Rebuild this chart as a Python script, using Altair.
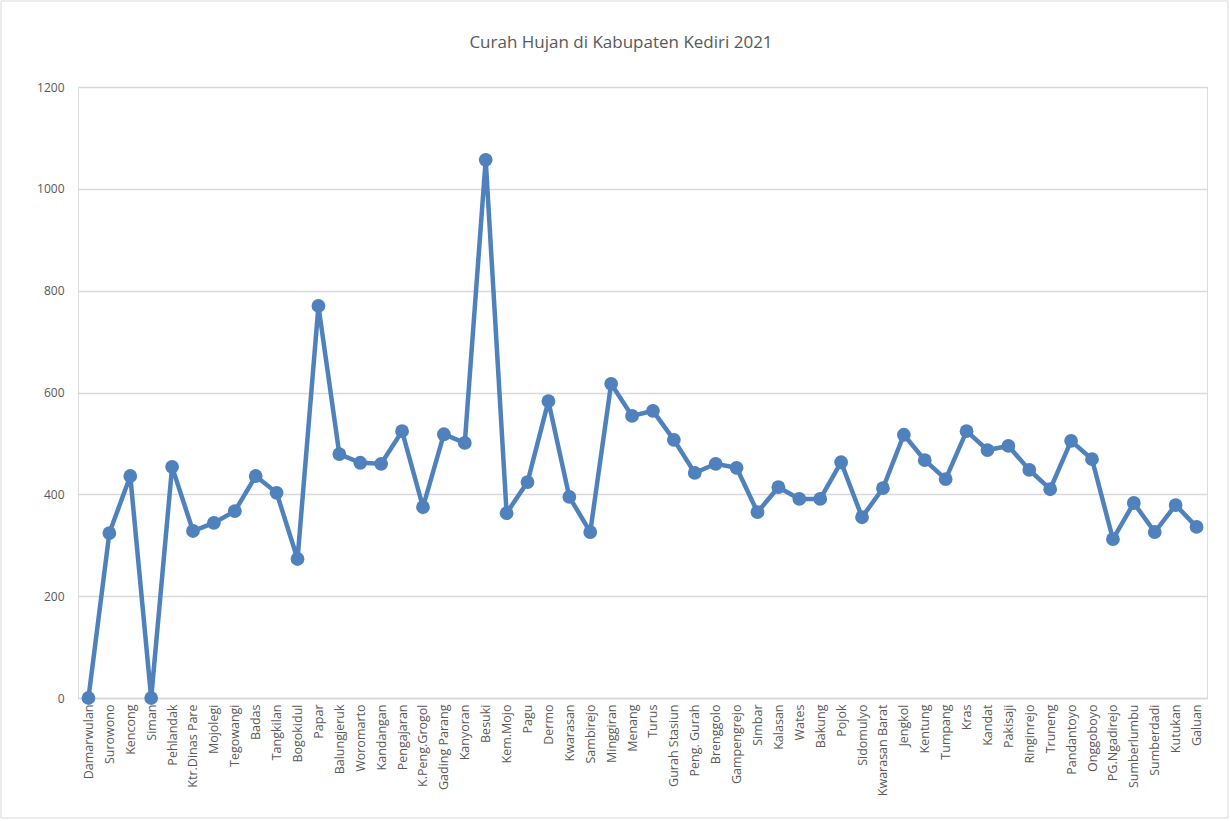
import altair as alt
import pandas as pd

title_text = "Curah Hujan di Kabupaten Kediri 2021"
categories = ["Damarwulan", "Surowono", "Kencong", "Siman", "Pehlandak", "Ktr.Dinas Pare",
              "Mojolegi", "Tegowangi", "Badas", "Tangkilan", "Bogokidul", "Papar",
              "Balungjeruk", "Woromarto", "Kandangan", "Pengajaran", "K.Peng.Grogol",
              "Gading Parang", "Kanyoran", "Besuki", "Kem.Mojo", "Pagu", "Dermo", "Kwarasan",
              "Sambirejo", "Minggiran", "Menang", "Turus", "Gurah Stasiun", "Peng. Gurah",
              "Brenggolo", "Gampengrejo", "Simbar", "Kalasan", "Wates", "Bakung", "Pojok",
              "Sidomulyo", "Kwarasan Barat", "Jengkol", "Kentung", "Tumpang", "Kras", "Kandat",
              "Pakisaji", "Ringinrejo", "Truneng", "Pandantoyo", "Onggoboyo", "PG.Ngadirejo",
              "Sumberlumbu", "Sumberdadi", "Kutukan", "Galuan"]
values = [0, 324, 436, 0, 454, 328,
          344, 367, 436, 403, 273, 770,
          479, 462, 460, 524, 375,
          518, 501, 1057, 363, 424, 583, 395,
          326, 617, 554, 564, 507, 442,
          460, 452, 365, 414, 391, 391, 463,
          355, 412, 517, 467, 430, 524, 487,
          495, 448, 410, 505, 469, 312,
          383, 326, 379, 336]

df = pd.DataFrame({"lokasi": categories, "curah": values})

FONT = "Open Sans"
GREY = "#595959"
BLUE = "#4F81BD"

x = alt.X("lokasi:N", sort=categories, title=None,
          scale=alt.Scale(paddingInner=0, paddingOuter=0),
          axis=alt.Axis(labelAngle=-90, labelFont=FONT, labelFontSize=12.5, labelColor=GREY,
                        ticks=False, domainColor="#d9d9d9", domainWidth=1.5, labelPadding=6,
                        labelOverlap=False, grid=False))
y = alt.Y("curah:Q", title=None,
          scale=alt.Scale(domain=[0, 1200], nice=False),
          axis=alt.Axis(values=[0, 200, 400, 600, 800, 1000, 1200], format="d", labelFont=FONT,
                        labelFontSize=12, labelColor=GREY, ticks=False, domain=False,
                        gridColor="#d9d9d9", gridWidth=1.3, labelPadding=14))

base = alt.Chart(df)
line = base.mark_line(color=BLUE, strokeWidth=4.5).encode(x=x, y=y)
pts = base.mark_circle(color=BLUE, size=190, opacity=1).encode(x=x, y=y)

one = pd.DataFrame({"t": [title_text]})
border = alt.Chart(one).mark_rect(
    fill=None, stroke="#d9d9d9", strokeWidth=1).encode(
    x=alt.value(-77), x2=alt.value(1150), y=alt.value(-86), y2=alt.value(731))
title = alt.Chart(one).mark_text(
    font=FONT, fontSize=17, color=GREY, align="center", baseline="middle").encode(
    text="t:N", x=alt.value(543), y=alt.value(-44))

chart = alt.layer(line, pts, border, title).properties(
    width=1129, height=611,
    padding={"left": 78, "top": 87, "right": 23, "bottom": 123},
    autosize=alt.AutoSizeParams(type="none"),
).configure_view(stroke=None).configure(background="white")

chart.save("out.html", embed_options={"renderer": "svg", "actions": False})
